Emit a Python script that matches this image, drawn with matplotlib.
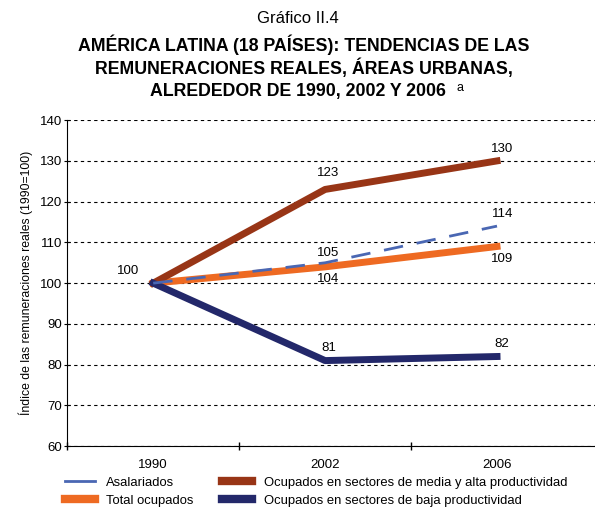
import matplotlib.pyplot as plt
from matplotlib.lines import Line2D
import numpy as np

plt.rcParams['font.family'] = ['Liberation Sans', 'DejaVu Sans']

years = ["1990", "2002", "2006"]
asalariados = [100, 105, 114]
media_alta = [100, 123, 130]
total_ocupados = [100, 104, 109]
baja = [100, 81, 82]

c_asal = "#4a67b3"
c_total = "#ee6a22"
c_media = "#983516"
c_baja = "#23286a"

fig = plt.figure(figsize=(5.95, 5.07), dpi=100)
ax = fig.add_axes([0.113, 0.12, 0.887, 0.643])

x = np.arange(len(years))
ax.plot(x, asalariados, color=c_asal, lw=2, dashes=(7, 5), zorder=4)
ax.plot(x, total_ocupados, color=c_total, lw=5, zorder=3)
ax.plot(x, media_alta, color=c_media, lw=5, zorder=3)
ax.plot(x, baja, color=c_baja, lw=5, zorder=3)

# data labels
fs = 9.5
ax.text(-0.08, 101.5, str(media_alta[0]), ha="right", va="bottom", fontsize=fs)
ax.text(1.02, media_alta[1] + 2.5, str(media_alta[1]), ha="center", va="bottom", fontsize=fs)
ax.text(2.03, media_alta[2] + 1.5, str(media_alta[2]), ha="center", va="bottom", fontsize=fs)
ax.text(1.02, asalariados[1] + 1, str(asalariados[1]), ha="center", va="bottom", fontsize=fs)
ax.text(2.03, asalariados[2] + 1.5, str(asalariados[2]), ha="center", va="bottom", fontsize=fs)
ax.text(1.02, total_ocupados[1] - 1.5, str(total_ocupados[1]), ha="center", va="top", fontsize=fs)
ax.text(2.03, total_ocupados[2] - 1.5, str(total_ocupados[2]), ha="center", va="top", fontsize=fs)
ax.text(1.02, baja[1] + 1.5, str(baja[1]), ha="center", va="bottom", fontsize=fs)
ax.text(2.03, baja[2] + 1.5, str(baja[2]), ha="center", va="bottom", fontsize=fs)

ax.set_xlim(-0.5, 2.57)
ax.set_ylim(60, 140)
ax.set_yticks(range(60, 141, 10))
ax.set_xticks(x)
ax.set_xticklabels(years)
ax.set_xticks([-0.5, 0.5, 1.5], minor=True)
ax.tick_params(axis="x", which="major", length=0, labelsize=9.5, pad=9)
ax.tick_params(axis="x", which="minor", length=6, direction="inout", width=1)
ax.tick_params(axis="y", length=5, direction="inout", labelsize=9.5, pad=1)
for s in ["top", "right"]:
    ax.spines[s].set_visible(False)
ax.grid(axis="y", color="black", ls=(0, (3, 3)), lw=0.8)
ax.set_axisbelow(True)
ax.set_ylabel("Índice de las remuneraciones reales (1990=100)", fontsize=8.8, labelpad=5)

handles = [
    Line2D([], [], color=c_asal, lw=2),
    Line2D([], [], color=c_total, lw=6),
    Line2D([], [], color=c_media, lw=6),
    Line2D([], [], color=c_baja, lw=6),
]
labels = ["Asalariados", "Total ocupados",
          "Ocupados en sectores de media y alta productividad",
          "Ocupados en sectores de baja productividad"]
ax.legend(handles, labels, loc="upper left", bbox_to_anchor=(-0.005, -0.094), ncol=2,
          frameon=False, fontsize=9.4, handlelength=2.3, columnspacing=2.2,
          labelspacing=0.42, handletextpad=0.9, borderpad=0, borderaxespad=0)

fig.text(0.5, 0.963, "Gráfico II.4", ha="center", va="center", fontsize=12)
fig.text(0.51, 0.912, "AMÉRICA LATINA (18 PAÍSES): TENDENCIAS DE LAS",
         ha="center", va="center", fontsize=12.8, fontweight="bold")
fig.text(0.51, 0.866, "REMUNERACIONES REALES, ÁREAS URBANAS,",
         ha="center", va="center", fontsize=12.8, fontweight="bold")
fig.text(0.5, 0.820, "ALREDEDOR DE 1990, 2002 Y 2006",
         ha="center", va="center", fontsize=12.8, fontweight="bold")
fig.text(0.767, 0.826, "a", ha="left", va="center", fontsize=9)

fig.savefig("out.png", dpi=100)
